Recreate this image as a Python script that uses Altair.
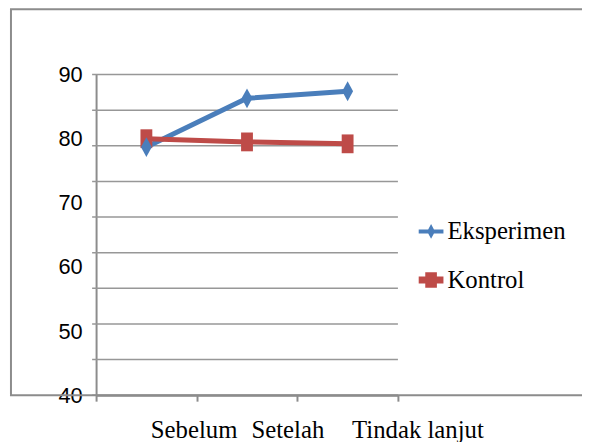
import altair as alt
import pandas as pd

categories = ["Sebelum", "Setelah", "Tindak lanjut"]
series_names = ["Eksperimen", "Kontrol"]
eksperimen = [78.7, 86.3, 87.4]
kontrol = [80.0, 79.5, 79.2]
y_labels = [40, 50, 60, 70, 80, 90]
grid_values = [40, 45.56, 51.11, 56.67, 62.22, 67.78, 73.33, 78.89, 84.44, 90]

BLUE = "#4A7EBB"
RED = "#BE4B48"
GRAY = "#8C8C8C"
GRID = "#979797"
W, H = 305, 324

rows = []
for s, vals in zip(series_names, [eksperimen, kontrol]):
    for c, v in zip(categories, vals):
        rows.append({"cat": c, "series": s, "value": v})
df = pd.DataFrame(rows)
grid_df = pd.DataFrame({"g": grid_values})
one = pd.DataFrame({"k": [0]})

x_enc = alt.X(
    "cat:N", sort=categories,
    scale=alt.Scale(type="band", paddingInner=0, paddingOuter=0),
    axis=alt.Axis(title=None, tickBand="extent", ticks=True, tickSize=6, tickWidth=2,
                  tickColor=GRAY, domainColor=GRAY, domainWidth=2, grid=False,
                  labelFont="Liberation Serif", labelFontSize=25, labelColor="black",
                  labelAngle=0, labelAlign="left", labelBaseline="top",
                  labelOffset=4, labelPadding=17),
)


def y_enc(field):
    return alt.Y(
        field,
        scale=alt.Scale(domain=[40, 90], nice=False, zero=False),
        axis=alt.Axis(title=None, values=y_labels, ticks=False, grid=False,
                      domainColor=GRAY, domainWidth=2,
                      labelFont="Liberation Sans", labelFontSize=22, labelColor="black",
                      labelPadding=14),
    )


color_scale = alt.Scale(domain=series_names, range=[BLUE, RED])

diamond = "M0,-1L0.55,0L0,1L-0.55,0Z"
square = "M-0.63,-1H0.63V1H-0.63Z"
leg_diamond = "M-1,-0.16H1V0.16H-1Z M0,-0.6L0.32,0L0,0.6L-0.32,0Z"
leg_square = "M-1,-0.28H1V0.28H-1Z M-0.47,-0.63H0.47V0.63H-0.47Z"

grid = alt.Chart(grid_df).mark_rule(color=GRID, strokeWidth=1.6).encode(
    y=y_enc("g:Q"), x=alt.value(-4), x2=alt.value(W)
)

frame = alt.Chart(one).mark_rect(filled=False, stroke=GRAY, strokeWidth=2, fillOpacity=0).encode(
    x=alt.value(-86), x2=alt.value(530), y=alt.value(-66), y2=alt.value(H)
)

base = alt.Chart(df)

legend = alt.Legend(title=None, orient="none", legendX=326, legendY=146,
                    labelFont="Liberation Serif", labelFontSize=25, labelColor="black",
                    symbolSize=625, symbolStrokeWidth=0, rowPadding=23, labelOffset=4,
                    symbolOpacity=1)
leg_layer = base.mark_point(filled=True, opacity=0).encode(
    x=x_enc, y=y_enc("value:Q"),
    color=alt.Color("series:N", scale=color_scale, legend=legend),
    shape=alt.Shape("series:N", scale=alt.Scale(domain=series_names, range=[leg_diamond, leg_square]),
                    legend=legend),
)

lines = base.mark_line(strokeWidth=5).encode(
    x=x_enc, y=y_enc("value:Q"),
    color=alt.Color("series:N", scale=color_scale, legend=None),
)
pts_e = base.transform_filter("datum.series == 'Eksperimen'").mark_point(
    filled=True, opacity=1, shape=diamond, size=400, color=BLUE
).encode(x=x_enc, y=y_enc("value:Q"))
pts_k = base.transform_filter("datum.series == 'Kontrol'").mark_point(
    filled=True, opacity=1, shape=square, size=361, color=RED
).encode(x=x_enc, y=y_enc("value:Q"))

chart = alt.layer(grid, frame, leg_layer, lines, pts_k, pts_e).properties(
    width=W, height=H,
    autosize=alt.AutoSizeParams(type="none"),
    padding={"left": 89, "top": 65, "right": 186, "bottom": 45},
).configure_view(stroke=None)

chart.save("out.html", embed_options={"renderer": "svg", "actions": False})
